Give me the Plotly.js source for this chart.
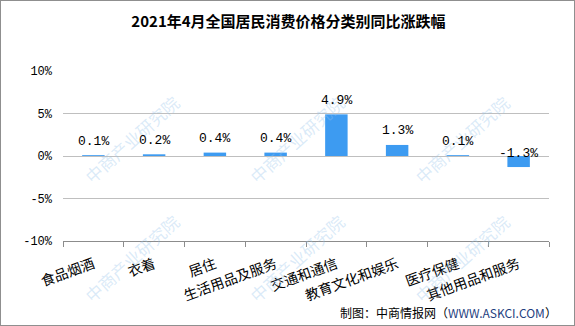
<!DOCTYPE html>
<html>
<head>
<meta charset="utf-8">
<script src="https://cdn.plot.ly/plotly-3.0.1.min.js"></script>
<style>
html,body{margin:0;padding:0;background:#fff;}
#chart{width:575px;height:326px;box-sizing:border-box;border:1px solid #8f8f8f;}
</style>
</head>
<body>
<div id="chart"></div>
<script>
const categories = ['食品烟酒','衣着','居住','生活用品及服务','交通和通信','教育文化和娱乐','医疗保健','其他用品和服务'];
const values = [0.1, 0.2, 0.4, 0.4, 4.9, 1.3, 0.1, -1.3];
const valueLabels = ['0.1%','0.2%','0.4%','0.4%','4.9%','1.3%','0.1%','-1.3%'];
const yTickVals = [-10, -5, 0, 5, 10];
const yTickText = ['-10%','-5%','0%','5%','10%'];
const titleText = '2021年4月全国居民消费价格分类别同比涨跌幅';
const sourceText = '制图：中商情报网（<span style="color:#1F3F7F">WWW.ASKCI.COM</span>）';
const watermarkText = '中商产业研究院';
const watermarkCols = [0.14, 0.48, 0.82];
const watermarkRows = [0.6, -0.1];

const barTrace = {
  type: 'bar', x: categories, y: values,
  marker: {color: '#3D9BF1'}, hoverinfo: 'skip'
};

const annotations = [];
watermarkRows.forEach(ry => watermarkCols.forEach(cx => annotations.push({
  xref: 'paper', yref: 'paper', x: cx, y: ry, xanchor: 'center', yanchor: 'middle',
  text: watermarkText, showarrow: false, textangle: -42,
  font: {family: 'Noto Sans CJK SC', size: 17, color: 'rgba(150,195,235,0.35)'}
})));
categories.forEach((c, i) => annotations.push({
  x: c, y: values[i], xref: 'x', yref: 'y',
  text: valueLabels[i], showarrow: false, yanchor: 'middle', yshift: 14,
  font: {family: 'Liberation Mono, monospace', size: 13, color: '#000'}
}));
annotations.push({
  xref: 'paper', yref: 'paper', x: 1.02, y: -0.36, xanchor: 'right', yanchor: 'top',
  text: sourceText, showarrow: false,
  font: {family: 'Noto Sans CJK SC', size: 12, color: '#000'}
});

const layout = {
  width: 575, height: 326,
  margin: {l: 62, r: 27, t: 70, b: 86},
  paper_bgcolor: 'rgba(0,0,0,0)', plot_bgcolor: 'rgba(0,0,0,0)',
  showlegend: false, bargap: 0.63,
  title: {text: titleText, x: 0.5, xanchor: 'center', y: 0.935, yanchor: 'middle',
    font: {family: 'Noto Sans CJK SC', size: 15, color: '#000', weight: 'bold'}},
  xaxis: {type: 'category', ticks: 'outside', tickson: 'boundaries',
    ticklen: 5, tickcolor: '#8c8c8c', showline: true, linecolor: '#8c8c8c', linewidth: 1,
    showgrid: false, zeroline: false, tickangle: -20, ticklabelstandoff: 9,
    tickfont: {family: 'Noto Sans CJK SC', size: 14, color: '#000'}},
  yaxis: {range: [-10, 10], tickvals: yTickVals, ticktext: yTickText,
    showgrid: true, gridcolor: '#bfbfbf', gridwidth: 1, zeroline: false, showline: false,
    ticks: '', ticklabelstandoff: 10,
    tickfont: {family: 'Liberation Mono, monospace', size: 12, color: '#000'}},
  annotations: annotations
};

Plotly.newPlot('chart', [barTrace], layout, {staticPlot: true, displayModeBar: false});
</script>
</body>
</html>
